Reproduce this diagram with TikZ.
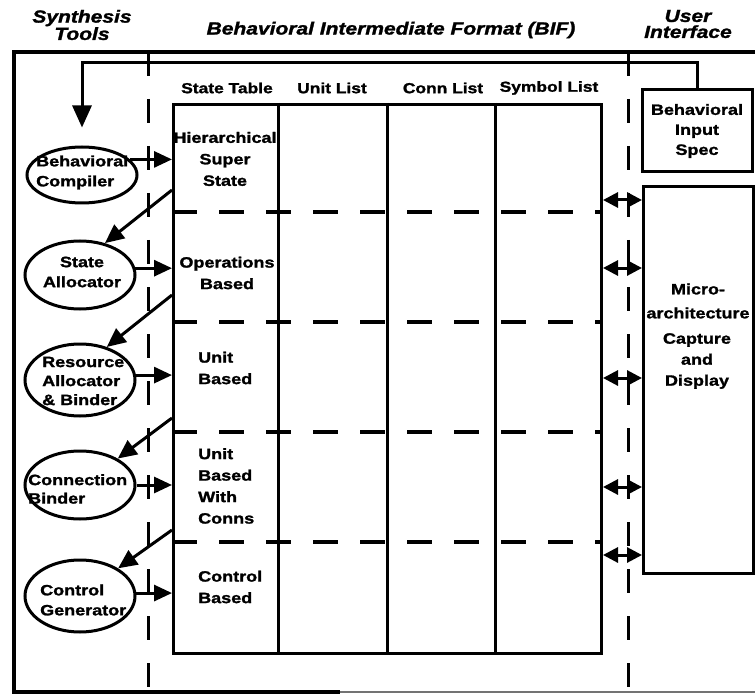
\documentclass[tikz,border=0pt]{standalone}
\usepackage{fontspec}
\setmainfont{Liberation Sans}[FakeStretch=1.2,
  BoldFeatures={FakeBold=1.5}, BoldItalicFeatures={FakeBold=1.5}]
\usetikzlibrary{arrows.meta,shapes.geometric}

\begin{document}
\begin{tikzpicture}[x=1pt,y=-1pt,
  heavy/.style={line width=3pt},
  title/.style={font=\fontsize{17.5}{16}\selectfont\bfseries\itshape, align=center, inner sep=0pt},
  colhdr/.style={font=\fontsize{14.5}{16}\selectfont\bfseries, inner sep=0pt},
  lbl/.style={font=\fontsize{15}{21.5}\selectfont\bfseries, align=center, inner sep=0pt},
  lbll/.style={lbl, align=left, anchor=west},
  tool/.style={ellipse, draw, line width=3pt, minimum width=110pt, minimum height=68pt, inner sep=0pt},
  tooltxt/.style={font=\fontsize{15}{20}\selectfont\bfseries, align=left, anchor=west, inner sep=0pt},
  box/.style={draw, line width=3pt, inner sep=0pt},
  divider/.style={line width=3pt, dash pattern=on 24pt off 23pt},
  rowline/.style={line width=3.5pt, dash pattern=on 25pt off 22pt},
  flow/.style={line width=3pt, -{Triangle[length=18pt,width=16pt]}},
  link/.style={line width=3pt, {Triangle[length=15pt,width=15pt]}-{Triangle[length=15pt,width=15pt]}}
]
\useasboundingbox (0,0) rectangle (755,695);

% headings
\node[title] (hsyn) at (82,25) {Synthesis\\Tools};
\node[title] (hbif) at (391,30) {Behavioral Intermediate Format (BIF)};
\node[title] (hui) at (688,24) {User\\Interface};

% outer frame and zone dividers
\draw[line width=3.5pt] (755,52) -- (14,52) -- (14,692) -- (340,692);
\draw[line width=2pt, black!55] (340,692) -- (755,692);
\draw[divider] (148,52) -- (148,692);
\draw[divider] (628,52) -- (628,692);

% BIF table
\node[colhdr] (cst) at (227,88) {State Table};
\node[colhdr] (cul) at (332,88) {Unit List};
\node[colhdr] (ccl) at (443,88) {Conn List};
\node[colhdr] (csl) at (549,88) {Symbol List};

\node[box, minimum width=428pt, minimum height=549pt, anchor=north west] (tbl) at (172,103) {};
\foreach \cx in {278,387,495}
  \draw[heavy] (\cx,103) -- (\cx,652);
\foreach \ry in {212,322,432,542}
  \draw[rowline] (172,\ry) -- (600,\ry);

\node[lbl] (r1) at (225,159) {Hierarchical\\Super\\State};
\node[lbl] (r2) at (227,273) {Operations\\Based};
\node[lbll] (r3) at (198,368) {Unit\\Based};
\node[lbll] (r4) at (198,486) {Unit\\Based\\With\\Conns};
\node[lbll] (r5) at (198,587) {Control\\Based};

% synthesis tools
\node[tool, minimum height=56pt] (bc) at (82,175) {};
\node[tool] (sa) at (80,275) {};
\node[tool, minimum height=72pt] (rab) at (80,380) {};
\node[tool] (cb) at (80,485) {};
\node[tool, minimum height=72pt] (cg) at (80,596) {};

\node[tooltxt] (tbc) at (36,172.5) {Behavioral\\Compiler};
\node[tooltxt, align=center, anchor=center] (tsa) at (82,272) {State\\Allocator};
\node[tooltxt, font=\fontsize{15}{19}\selectfont\bfseries] (trab) at (42,381) {Resource\\Allocator\\\& Binder};
\node[tooltxt, font=\fontsize{15}{18.5}\selectfont\bfseries] (tcb) at (28,489) {Connection\\Binder};
\node[tooltxt] (tcg) at (40,600) {Control\\Generator};

% tool outputs into the state table
\draw[flow] (bc.18) -- (bc.18 -| tbl.west);
\draw[flow] (sa.7) -- (sa.7 -| tbl.west);
\draw[flow] (rab.5) -- (rab.5 -| tbl.west);
\draw[flow] (cb.east) -- (cb.east -| tbl.west);
\draw[flow] (cg.3) -- (cg.3 -| tbl.west);

% state table feeding the next tool
\coordinate (s1) at (172,190);
\coordinate (s2) at (172,295);
\coordinate (s3) at (172,418);
\coordinate (s4) at (172,530);
\draw[flow, -{Triangle[length=19pt,width=17pt]}] (s1) -- (sa.52);
\draw[flow, -{Triangle[length=19pt,width=17pt]}] (s2) -- (rab.51);
\draw[flow, -{Triangle[length=19pt,width=17pt]}] (s3) -- (cb.35);
\draw[flow, -{Triangle[length=19pt,width=17pt]}] (s4) -- (cg.36);

% user interface
\node[box, minimum width=110pt, minimum height=82pt, font=\fontsize{15}{20}\selectfont\bfseries, align=center] (spec) at (697,131) {Behavioral\\Input\\Spec};
\node[box, minimum width=110pt, minimum height=387pt, anchor=north west] (mc) at (642,185) {};
\node[lbl, font=\fontsize{15}{24}\selectfont\bfseries] (tmc1) at (698,301) {Micro-\\architecture};
\node[lbl, font=\fontsize{15}{21}\selectfont\bfseries] (tmc2) at (697,361) {Capture\\and\\Display};

% behavioural spec fed back to the compiler
\coordinate (fb) at (82,63);
\draw[flow, -{Triangle[length=22pt,width=19pt]}, shorten >=18pt] (spec.north) |- (fb) -- (bc.north);

% two-way links between table and display
\foreach \ly in {200,268,378,487,555}
  \draw[link] (tbl.east |- 0,\ly) -- (mc.west |- 0,\ly);
\end{tikzpicture}
\end{document}
